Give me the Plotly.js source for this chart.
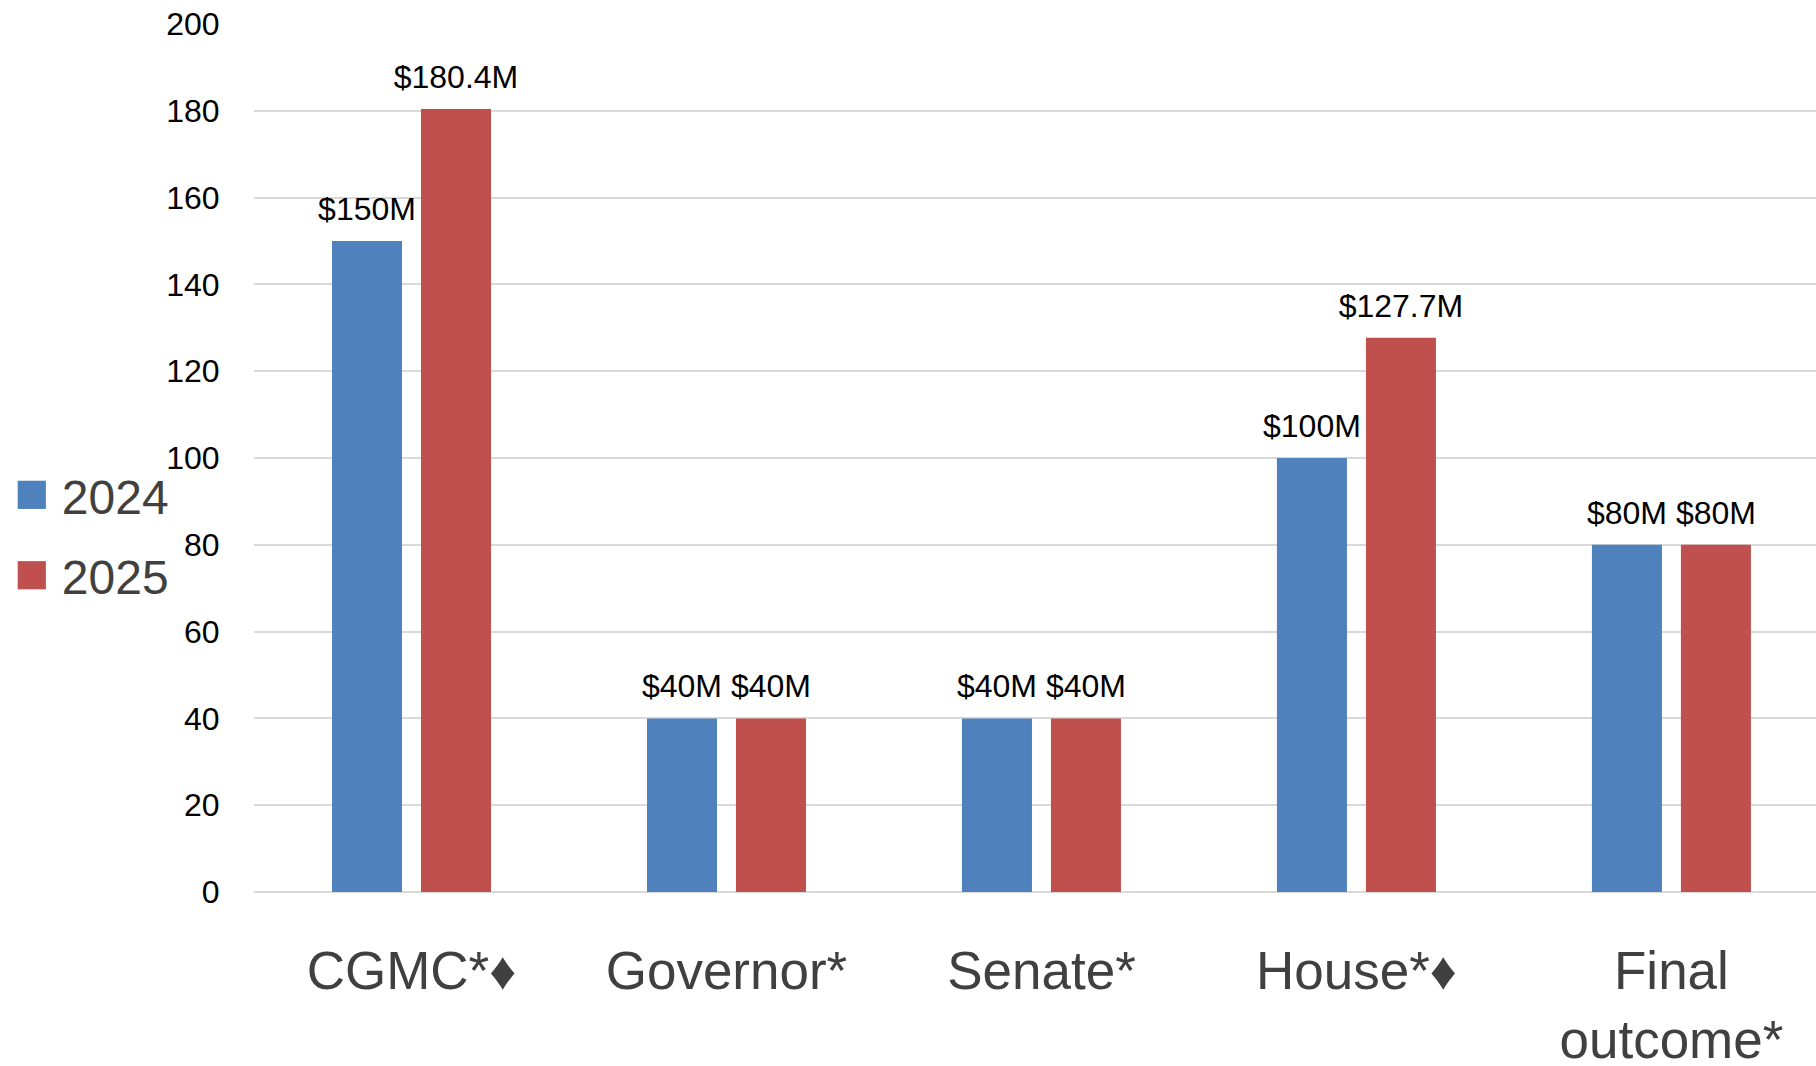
<!DOCTYPE html>
<html>
<head>
<meta charset="utf-8">
<script src="https://cdn.plot.ly/plotly-3.0.1.min.js"></script>
<style>html,body{margin:0;padding:0;background:#fff;}#chart{width:1816px;height:1066px;}</style>
</head>
<body>
<div id="chart"></div>
<script>
const categories = ["CGMC*♦", "Governor*", "Senate*", "House*♦", "Final<br>outcome*"];
const values2024 = [150, 40, 40, 100, 80];
const values2025 = [180.4, 40, 40, 127.7, 80];
const labels2024 = ["$150M", "$40M", "$40M", "$100M", "$80M"];
const labels2025 = ["$180.4M", "$40M", "$40M", "$127.7M", "$80M"];
const yTicks = [0, 20, 40, 60, 80, 100, 120, 140, 160, 180, 200];

const font = "Liberation Sans, Arial, sans-serif";

const traces = [
  {type: "bar", name: "2024", legendgroup: "a", x: categories, y: values2024, text: labels2024,
   textposition: "outside", constraintext: "none", cliponaxis: false,
   textfont: {size: 32, color: "#000", family: font},
   marker: {color: "#4F81BD"}, hoverinfo: "none"},
  {type: "bar", name: "2025", legendgroup: "b", x: categories, y: values2025, text: labels2025,
   textposition: "outside", constraintext: "none", cliponaxis: false,
   textfont: {size: 32, color: "#000", family: font},
   marker: {color: "#C0504D"}, hoverinfo: "none"}
];

const layout = {
  width: 1816, height: 1066,
  margin: {l: 254, r: 0, t: 24, b: 174},
  paper_bgcolor: "#fff", plot_bgcolor: "#fff",
  barmode: "group", bargap: 0.435, bargroupgap: 0.213,
  font: {family: font},
  showlegend: true,
  legend: {xref: "container", yref: "container", x: 0.012, y: 0.498, xanchor: "left", yanchor: "middle",
           font: {size: 48, color: "#404040", family: font}, bgcolor: "rgba(0,0,0,0)",
           traceorder: "grouped", tracegroupgap: 15, itemclick: false},
  xaxis: {type: "category", range: [-0.5, 4.459], showgrid: false, zeroline: false, showline: false,
          ticks: "outside", ticklen: 32, tickcolor: "rgba(0,0,0,0)",
          tickfont: {size: 53, color: "#404040", family: font}},
  yaxis: {range: [0, 200], tickvals: yTicks, ticktext: yTicks.map(String), showgrid: true,
          gridcolor: "#D9D9D9", gridwidth: 2, zeroline: true, zerolinecolor: "#D9D9D9", zerolinewidth: 2,
          showline: false, ticks: "outside", ticklen: 27, tickcolor: "rgba(0,0,0,0)",
          tickfont: {size: 32, color: "#000", family: font}}
};

Plotly.newPlot("chart", traces, layout, {staticPlot: true}).then(function(){
  document.querySelectorAll(".legend [clip-path]").forEach(function(el){
    el.removeAttribute("clip-path");
  });
  document.querySelectorAll(".legendpoints path").forEach(function(p){
    p.setAttribute("transform", "translate(10,0) scale(2.35)");
  });
  document.querySelectorAll("text.bartext").forEach(function(t){
    t.setAttribute("transform", "translate(0,-11) " + (t.getAttribute("transform") || ""));
  });
});
</script>
</body>
</html>
